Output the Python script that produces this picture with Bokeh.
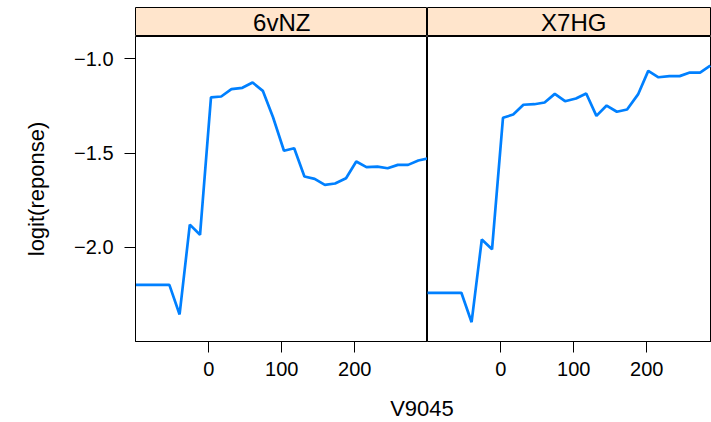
from bokeh.plotting import figure
from bokeh.models import FixedTicker, Label, Range1d
from bokeh.layouts import row, column
from bokeh.embed import file_html
from bokeh.resources import INLINE

# ---- data ----
panel_names = ["6vNZ", "X7HG"]
x_vals = [-110, -96, -82, -68, -54, -40, -26, -12, 3, 17, 31, 46, 60, 74, 88,
          103, 117, 131, 145, 159, 173, 188, 202, 216, 231, 245, 259, 273, 287, 301]
y_6vNZ = [-2.20, -2.20, -2.20, -2.20, -2.20, -2.357, -1.880, -1.934, -1.205, -1.200,
          -1.161, -1.154, -1.126, -1.170, -1.310, -1.488, -1.475, -1.625, -1.637, -1.669,
          -1.662, -1.634, -1.545, -1.575, -1.572, -1.581, -1.563, -1.563, -1.540, -1.528]
y_X7HG = [-2.242, -2.242, -2.242, -2.242, -2.242, -2.398, -1.959, -2.011, -1.313, -1.296,
          -1.244, -1.241, -1.232, -1.186, -1.225, -1.211, -1.184, -1.303, -1.248, -1.281,
          -1.269, -1.189, -1.064, -1.098, -1.092, -1.092, -1.073, -1.073, -1.036, float("nan")]
x_ticks = [0, 100, 200]
x_tick_labels = ["0", "100", "200"]
y_ticks = [-2.0, -1.5, -1.0]
y_tick_labels = ["\u22122.0", "\u22121.5", "\u22121.0"]
x_label = "V9045"
y_label = "logit(reponse)"

FONT = "Liberation Sans"
LINE_COLOR = "#0080ff"
STRIP_COLOR = "#ffe5cc"

Y_LO, Y_HI = -2.5005, -0.8816
X_LO = -100.4
PX_PER_UNIT = 0.73
LEFT_BORDER = 135
FRAME_H = 305
STRIP_H = 29


def make_strip(name, frame_w, left):
    x_hi = X_LO + frame_w / PX_PER_UNIT
    s = figure(frame_width=frame_w, frame_height=STRIP_H,
               x_range=Range1d(X_LO, x_hi), y_range=Range1d(0, 1),
               toolbar_location=None, output_backend="svg",
               x_axis_location=None, y_axis_location=None,
               min_border_left=LEFT_BORDER if left else 0, min_border_right=0,
               min_border_top=7, min_border_bottom=0,
               background_fill_color=STRIP_COLOR, border_fill_color="white")
    s.outline_line_color = "black"
    s.outline_line_width = 1
    s.xgrid.grid_line_color = None
    s.ygrid.grid_line_color = None
    s.add_layout(Label(x=100, y=0.5, text=name, text_align="center", text_baseline="middle",
                       text_font=FONT, text_font_size="24px", text_color="black"))
    return s


def make_panel(ys, frame_w, left):
    x_hi = X_LO + frame_w / PX_PER_UNIT
    p = figure(frame_width=frame_w, frame_height=FRAME_H,
               x_range=Range1d(X_LO, x_hi), y_range=Range1d(Y_LO, Y_HI),
               toolbar_location=None, output_backend="svg",
               y_axis_location="left" if left else None,
               min_border_left=LEFT_BORDER if left else 0, min_border_right=0,
               min_border_top=0, min_border_bottom=50,
               background_fill_color="white", border_fill_color="white")
    p.outline_line_color = "black"
    p.outline_line_width = 1
    p.xgrid.grid_line_color = None
    p.ygrid.grid_line_color = None

    p.line(x_vals, ys, line_color=LINE_COLOR, line_width=2.7)

    xa = p.xaxis[0]
    xa.ticker = FixedTicker(ticks=x_ticks)
    xa.major_label_overrides = dict(zip(x_ticks, x_tick_labels))
    xa.minor_tick_line_color = None
    xa.major_tick_in = 0
    xa.major_tick_out = 11
    xa.axis_line_color = "black"
    xa.major_tick_line_color = "black"
    xa.major_label_standoff = 9
    xa.major_label_text_font = FONT
    xa.major_label_text_font_size = "20px"
    xa.major_label_text_color = "black"

    if left:
        ya = p.yaxis[0]
        ya.ticker = FixedTicker(ticks=y_ticks)
        ya.major_label_overrides = dict(zip(y_ticks, y_tick_labels))
        ya.minor_tick_line_color = None
        ya.major_tick_in = 0
        ya.major_tick_out = 11
        ya.axis_line_color = "black"
        ya.major_tick_line_color = "black"
        ya.major_label_standoff = 11
        ya.major_label_text_font = FONT
        ya.major_label_text_font_size = "20px"
        ya.major_label_text_color = "black"
        ya.axis_label = y_label
        ya.axis_label_standoff = 22
        ya.axis_label_text_font = FONT
        ya.axis_label_text_font_size = "22px"
        ya.axis_label_text_font_style = "normal"
        ya.axis_label_text_color = "black"
    return p


s1 = make_strip(panel_names[0], 292, True)
s2 = make_strip(panel_names[1], 284, False)
p1 = make_panel(y_6vNZ, 292, True)
p2 = make_panel(y_X7HG, 284, False)

pb = figure(width=711, height=31, x_range=Range1d(0, 711), y_range=Range1d(0, 31),
            toolbar_location=None, output_backend="svg",
            x_axis_location=None, y_axis_location=None,
            min_border=0, outline_line_color=None)
pb.xgrid.grid_line_color = None
pb.ygrid.grid_line_color = None
pb.add_layout(Label(x=421.5, y=14, text=x_label, text_align="center", text_baseline="middle",
                    text_font=FONT, text_font_size="22px", text_color="black"))

p = column(row(s1, s2), row(p1, p2), pb)

open("out.html", "w").write(file_html(p, INLINE))
